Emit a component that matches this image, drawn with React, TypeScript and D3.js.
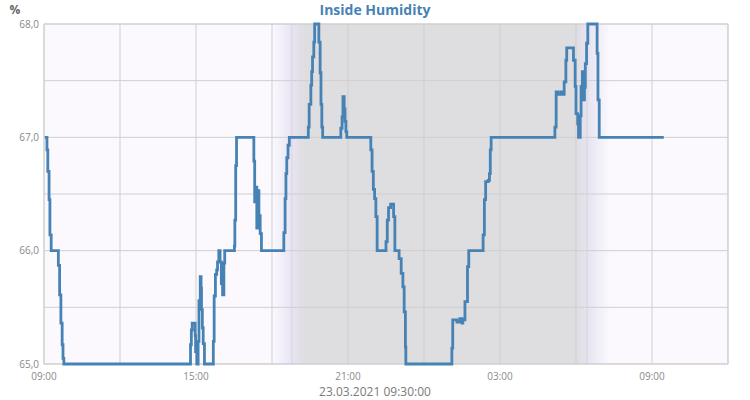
import React from "react";
import * as d3 from "d3";

// minutes after 22.03.2021 09:00, and humidity in %
const minutes = [
  2, 7, 9, 12, 14, 17, 34, 37, 40, 43, 45, 47, 347, 349, 351, 358, 359, 362,
  365, 367, 370, 372, 373, 375, 377, 380, 401, 403, 406, 409, 411, 414, 417,
  420, 423, 426, 428, 451, 452, 454, 456, 497, 499, 502, 504, 507, 509, 512,
  515, 568, 571, 573, 575, 578, 581, 626, 628, 632, 634, 636, 639, 641, 651,
  654, 656, 658, 660, 703, 706, 708, 711, 713, 715, 717, 774, 777, 780, 783,
  786, 789, 810, 813, 816, 821, 828, 831, 841, 846, 850, 853, 856, 857, 966,
  968, 978, 985, 990, 992, 997, 1003, 1006, 1040, 1043, 1046, 1052, 1055,
  1057, 1059, 1210, 1213, 1217, 1224, 1229, 1232, 1236, 1238, 1254, 1258,
  1260, 1264, 1266, 1270, 1272, 1275, 1277, 1280, 1282, 1285, 1288, 1310,
  1312, 1315, 1468,
];
const humidity = [
  67.0, 66.89, 66.7, 66.45, 66.14, 66.0, 65.87, 65.61, 65.36, 65.17, 65.05,
  65.0, 65.17, 65.3, 65.36, 65.25, 65.11, 65.0, 65.2, 65.56, 65.77, 65.67,
  65.48, 65.32, 65.18, 65.0, 65.2, 65.6, 65.79, 65.83, 65.9, 66.0, 65.9,
  65.71, 65.61, 65.89, 66.0, 66.04, 66.27, 66.75, 67.0, 66.79, 66.43, 66.56,
  66.2, 66.53, 66.31, 66.15, 66.0, 66.16, 66.46, 66.68, 66.82, 66.93, 67.0,
  67.09, 67.29, 67.46, 67.58, 67.71, 67.84, 68.0, 67.84, 67.57, 67.29, 67.09,
  67.0, 67.08, 67.18, 67.36, 67.25, 67.14, 67.05, 67.0, 66.89, 66.7, 66.54,
  66.46, 66.3, 66.0, 66.08, 66.27, 66.38, 66.41, 66.3, 66.0, 65.93, 65.8,
  65.68, 65.46, 65.15, 65.0, 65.14, 65.39, 65.37, 65.4, 65.36, 65.39, 65.55,
  65.86, 66.0, 66.14, 66.45, 66.61, 66.62, 66.68, 66.89, 67.0, 67.09, 67.4,
  67.38, 67.4, 67.38, 67.49, 67.68, 67.79, 67.68, 67.45, 67.21, 67.12, 67.0,
  67.19, 67.45, 67.58, 67.33, 67.44, 67.65, 67.83, 68.0, 67.74, 67.33, 67.0,
  67.0,
];

const yTicks = [65, 66, 67, 68];
const yGrid = [65, 65.5, 66, 66.5, 67, 67.5, 68];
const title = "Inside Humidity";
const unit = "%";
const stamp = "23.03.2021 09:30:00";

// dusk / dawn, as minutes after start
const duskStart = 540;
const sunset = 587;
const sunrise = 1286;
const dawnEnd = 1340;

const width = 750;
const height = 400;
const margin = { top: 24, right: 22, bottom: 36, left: 44 };

const start = new Date(2021, 2, 22, 9, 0);
const end = new Date(2021, 2, 23, 12, 0);
const at = (m: number) => d3.timeMinute.offset(start, m);

export default function App() {
  const x = d3
    .scaleTime()
    .domain([start, end])
    .range([margin.left, width - margin.right]);
  const y = d3
    .scaleLinear()
    .domain([65, 68])
    .range([height - margin.bottom, margin.top]);

  const points = minutes.map((m, i) => [at(m), humidity[i]] as [Date, number]);
  const line = d3
    .line<[Date, number]>()
    .x(d => x(d[0]))
    .y(d => y(d[1]))
    .curve(d3.curveStepAfter);

  const gridTimes = x.ticks(d3.timeHour.every(3)!);
  const labelTimes = gridTimes.filter(t => (t.getHours() - 9 + 24) % 6 === 0);
  const fmt = d3.timeFormat("%H:%M");

  const x0 = margin.left;
  const x1 = width - margin.right;
  const y0 = margin.top;
  const y1 = height - margin.bottom;
  const xd0 = x(at(duskStart));
  const xs = x(at(sunset));
  const xr = x(at(sunrise));
  const xd1 = x(at(dawnEnd));

  return (
    <svg
      width={width}
      height={height}
      style={{ position: "absolute", left: 0, top: 0 }}
      fontFamily="'Open Sans', sans-serif"
    >
      <defs>
        <linearGradient id="dusk" x1="0" x2="1" y1="0" y2="0">
          <stop offset="0" stopColor="#fbf9fe" />
          <stop offset="0.6" stopColor="#e9e5f4" />
          <stop offset="1" stopColor="#dedde0" />
        </linearGradient>
        <linearGradient id="dawn" x1="0" x2="1" y1="0" y2="0">
          <stop offset="0" stopColor="#dedde0" />
          <stop offset="0.35" stopColor="#e6e3f0" />
          <stop offset="1" stopColor="#fbf9fe" />
        </linearGradient>
      </defs>
      <rect x={x0} y={y0} width={x1 - x0} height={y1 - y0} fill="#fbf9fe" />
      <rect x={xd0} y={y0} width={xs + 12 - xd0} height={y1 - y0} fill="url(#dusk)" />
      <rect x={xs + 12} y={y0} width={xr - 12 - xs - 12} height={y1 - y0} fill="#dedde0" />
      <rect x={xr - 12} y={y0} width={xd1 - xr + 12} height={y1 - y0} fill="url(#dawn)" />

      {yGrid.map(v => (
        <line key={v} x1={x0} x2={x1} y1={y(v)} y2={y(v)} stroke="#cfcfcf" />
      ))}
      {gridTimes.map(t => (
        <line key={+t} x1={x(t)} x2={x(t)} y1={y0} y2={y1} stroke="#cfcfcf" />
      ))}
      <line x1={xs} x2={xs} y1={y0} y2={y1} stroke="#d6d4dc" />
      <line x1={xr} x2={xr} y1={y0} y2={y1} stroke="#d6d4dc" />
      <rect x={x0} y={y0} width={x1 - x0} height={y1 - y0} fill="none" stroke="#cfcfcf" />

      <path
        d={line(points) ?? ""}
        fill="none"
        stroke="#4682b4"
        strokeWidth={2.8}
        strokeLinejoin="miter"
      />

      {yTicks.map(v => (
        <text key={v} x={x0 - 5} y={y(v)} dy="0.35em" textAnchor="end" fontSize={10} fill="#8a8a8a">
          {d3.format(".1f")(v).replace(".", ",")}
        </text>
      ))}
      {labelTimes.map(t => (
        <text key={+t} x={x(t)} y={y1 + 16} textAnchor="middle" fontSize={10} fill="#8a8a8a">
          {fmt(t)}
        </text>
      ))}
      <text x={15} y={14} textAnchor="middle" fontSize={12} fontWeight="bold" fill="#666">
        {unit}
      </text>
      <text x={width / 2} y={15} textAnchor="middle" fontSize={14} fontWeight="bold" fill="#4682b4">
        {title}
      </text>
      <text x={width / 2} y={396} textAnchor="middle" fontSize={12} fill="#7a7a7a">
        {stamp}
      </text>
    </svg>
  );
}
